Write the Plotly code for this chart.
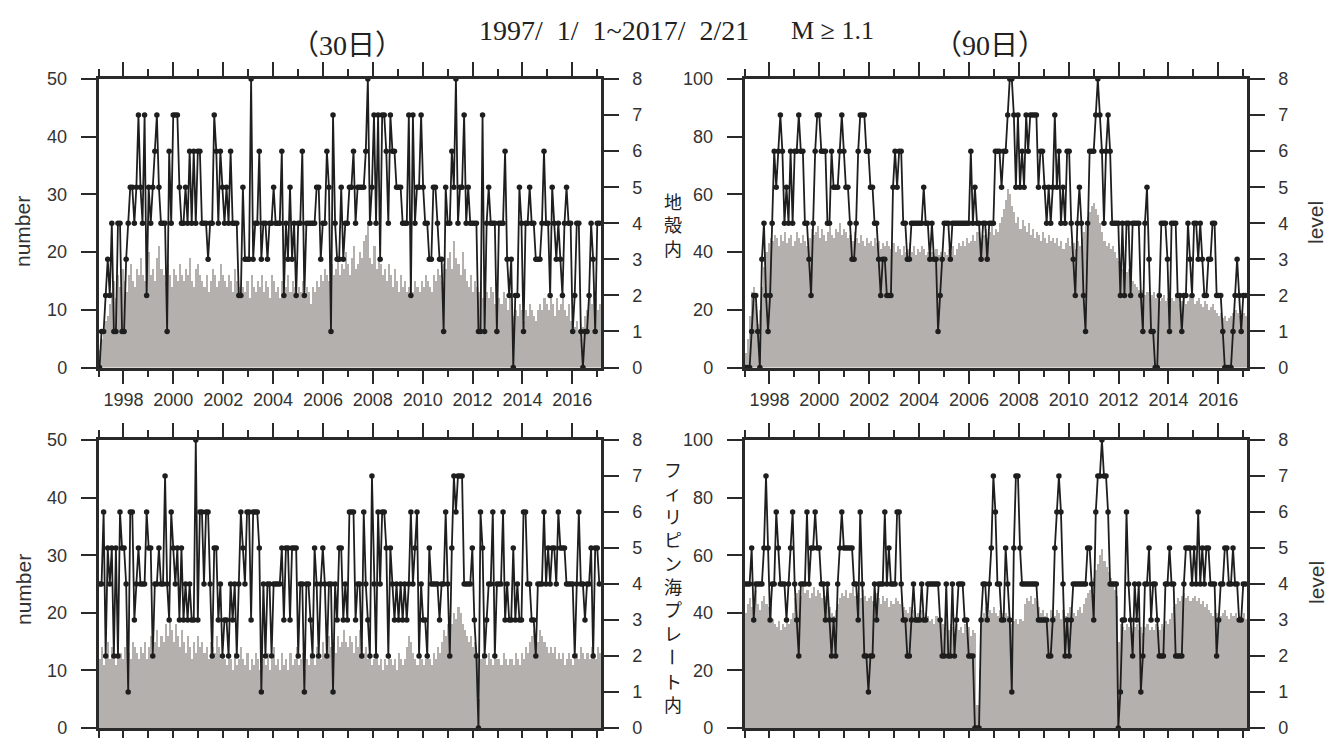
import numpy as np
import plotly.graph_objects as go

W, H = 1329, 738
STEP_DAYS = 30
X_START, X_END = 1997.0, 2017.15

year_ticks = list(range(1998, 2017, 2))
year_labels = [str(y) for y in year_ticks]
minor_ticks = list(range(1997, 2018, 2))
number_ticks_30 = [0, 10, 20, 30, 40, 50]
number_ticks_90 = [0, 20, 40, 60, 80, 100]
level_ticks = list(range(0, 9))

# ---------------- 30-day window, crust (地殻内) ----------------
tl_level = [
    0,1,1,2,3,2,4,1,1,4,4,1,1,3,4,5,5,4,5,7,
    5,4,7,2,5,4,5,6,7,5,4,4,4,1,6,4,7,7,7,5,
    4,4,5,4,6,4,6,4,6,6,4,4,4,3,4,4,7,6,4,6,
    5,4,5,4,6,4,4,4,2,2,5,3,3,3,8,3,4,4,6,3,
    4,4,3,4,4,5,4,4,4,6,2,4,3,5,3,4,2,4,4,6,
    2,4,4,4,4,4,5,5,3,4,4,6,5,1,7,4,3,3,5,3,
    4,4,5,5,6,4,5,5,5,5,6,8,4,5,7,4,7,3,7,7,
    6,4,7,6,6,5,5,5,4,4,4,7,2,7,4,5,5,7,5,4,
    4,3,3,5,5,4,3,3,1,5,4,4,6,5,8,4,5,5,7,4,
    5,4,4,4,4,1,1,7,1,4,5,4,4,4,1,4,4,4,6,3,
    2,3,0,2,2,5,4,1,4,4,5,4,4,3,3,3,4,6,4,4,
    2,5,4,3,4,3,2,4,5,4,4,1,2,4,4,1,0,1,1,2,
    4,3,1,4,4]
tl_number = [
    3,5,6,8,9,11,13,15,12,16,14,17,15,13,16,18,15,14,17,16,
    19,16,15,18,20,16,17,15,19,21,17,16,15,18,16,14,17,16,15,18,
    16,15,17,16,19,15,14,17,18,16,15,14,16,13,15,17,16,14,15,18,
    16,15,14,16,15,13,17,15,14,12,14,13,15,12,16,14,13,15,14,16,
    13,15,14,12,16,15,13,14,12,15,13,14,16,13,15,14,12,14,13,15,
    12,14,13,11,14,13,15,14,16,15,17,16,15,18,16,17,19,16,18,17,
    20,18,16,19,21,17,18,20,19,22,23,25,19,18,21,17,19,18,16,17,
    15,18,16,14,17,15,13,16,14,15,13,14,16,13,15,14,13,15,14,16,
    15,14,13,16,15,17,16,15,18,17,19,20,17,22,19,18,16,20,17,15,
    14,16,13,15,14,13,15,12,14,13,12,14,13,11,13,12,11,13,12,10,
    12,11,9,10,9,11,10,8,10,9,11,10,9,8,10,11,10,12,11,10,
    12,11,9,12,10,11,13,10,9,11,8,9,7,8,6,5,7,9,10,12,
    11,13,12,10,11]

# ---------------- 90-day window, crust (地殻内) ----------------
tr_level = [
    0,0,0,1,2,2,1,0,3,4,2,1,2,4,6,5,6,7,6,4,
    5,4,6,4,6,6,7,6,6,4,4,3,2,4,6,7,7,6,6,6,
    4,4,6,5,5,5,6,7,6,5,5,4,3,3,4,6,7,7,7,6,
    6,5,5,4,4,3,2,3,3,2,2,2,5,6,5,6,6,4,4,3,
    3,4,4,4,4,4,4,5,4,4,3,4,3,3,1,2,3,4,4,4,
    3,4,4,4,4,4,4,4,4,4,6,4,5,4,4,3,4,4,3,4,
    4,4,6,6,6,5,6,6,7,8,8,7,5,7,5,6,5,7,6,7,
    7,7,7,5,6,6,5,4,5,4,5,7,5,6,4,5,4,6,6,4,
    3,2,4,5,4,2,1,4,6,6,6,7,8,7,6,4,6,7,6,4,
    4,4,4,2,4,2,4,4,2,4,4,4,4,2,1,4,5,3,1,1,
    0,0,2,4,4,4,3,1,4,4,4,2,2,1,2,2,4,3,2,4,
    4,3,4,3,2,2,3,3,4,4,2,2,2,1,0,0,0,0,1,2,
    3,2,1,2,2]
tr_number = [
    5,10,18,26,28,22,15,20,28,35,40,43,45,44,46,45,42,46,44,47,
    43,45,46,42,44,47,45,43,46,44,42,45,48,46,47,49,45,48,46,44,
    47,49,46,45,48,47,50,46,48,47,45,46,44,47,45,43,46,44,42,45,
    43,44,42,45,43,44,41,43,42,44,42,41,43,40,42,41,39,42,40,41,
    43,40,42,39,41,40,42,41,39,40,42,40,38,41,39,40,38,40,39,41,
    40,42,39,41,43,42,44,42,45,43,44,46,44,47,45,43,46,48,45,47,
    49,46,48,47,50,52,55,58,62,60,56,54,50,52,48,51,49,47,50,46,
    48,45,47,46,44,47,45,43,46,44,45,43,45,42,44,41,43,45,42,44,
    43,41,44,42,45,47,49,52,54,56,57,55,53,50,47,44,42,43,41,42,
    40,38,37,35,34,36,33,34,32,30,29,28,27,26,27,25,26,24,25,26,
    24,25,23,24,25,23,24,22,24,23,25,24,22,23,24,22,23,25,24,22,
    23,24,22,21,23,22,20,21,22,20,19,18,19,17,18,16,17,18,19,20,
    19,18,20,19,18]

# ---------------- 30-day window, Philippine Sea plate (フィリピン海プレート内) ----------------
bl_level = [
    4,4,6,2,5,4,5,2,5,2,6,5,5,4,1,6,6,3,4,5,
    4,4,4,6,5,5,2,4,4,5,4,4,7,4,3,6,5,4,5,3,
    5,3,4,3,4,3,3,8,3,6,6,4,6,6,4,2,5,5,3,4,
    2,3,3,2,4,3,4,2,4,6,5,4,6,6,3,6,6,6,5,1,
    4,2,4,4,2,4,4,4,4,5,3,5,5,3,5,5,5,2,4,4,
    1,4,4,3,2,5,4,2,4,5,4,2,4,4,1,4,3,5,5,3,
    4,3,6,6,6,3,4,4,2,6,4,3,2,7,4,2,6,4,6,6,
    5,2,5,4,3,4,3,4,3,4,3,4,6,4,5,6,2,4,3,3,
    2,5,4,4,4,4,3,4,4,6,4,2,5,7,6,7,7,7,4,4,
    4,4,5,3,2,0,6,5,2,3,4,4,6,2,4,4,4,6,3,4,
    3,3,5,3,4,3,3,6,6,4,4,3,3,2,4,4,4,6,4,5,
    4,5,5,4,6,5,5,5,4,4,4,4,2,4,6,4,4,3,4,4,
    5,2,5,5,4]
bl_number = [
    12,14,11,13,15,12,14,13,11,15,13,12,14,16,13,12,15,14,13,12,
    14,13,15,12,14,16,13,15,17,14,16,15,18,16,19,17,15,18,16,14,
    17,15,13,16,14,12,15,13,16,14,15,13,14,12,15,14,13,16,14,12,
    13,12,11,13,12,10,13,11,12,14,12,11,13,10,12,11,13,12,10,11,
    12,11,13,10,12,14,11,12,10,13,11,12,10,13,11,12,14,11,12,13,
    10,12,11,13,12,11,14,13,12,15,13,14,16,14,15,13,16,14,15,17,
    15,14,16,15,13,16,14,17,15,13,14,12,13,11,12,13,11,12,10,12,
    11,13,12,11,12,10,13,12,11,12,14,16,15,13,12,11,13,12,11,12,
    13,12,11,13,12,14,13,15,17,16,18,19,18,20,19,21,20,18,17,16,
    15,16,14,15,13,5,12,13,12,11,13,12,11,13,12,12,11,13,12,11,
    12,12,11,13,12,11,13,12,14,13,15,16,17,16,15,17,16,15,14,13,
    14,13,14,12,13,12,13,11,12,13,12,11,12,13,12,14,13,12,13,12,
    14,13,12,14,13]

# ---------------- 90-day window, Philippine Sea plate (フィリピン海プレート内) ----------------
br_level = [
    4,4,4,5,3,4,4,4,4,5,7,5,3,4,4,6,5,4,4,4,
    3,4,5,6,4,3,2,4,4,4,6,4,5,5,6,5,5,4,4,3,
    4,3,2,3,2,4,5,6,5,5,5,5,5,4,4,3,6,4,2,2,
    1,2,2,4,3,4,4,4,6,4,5,4,4,4,6,6,4,3,3,2,
    2,3,4,3,3,3,4,3,3,4,4,4,4,4,4,3,2,2,4,2,
    2,4,2,3,4,4,4,3,3,2,2,2,0,0,0,3,4,4,3,4,
    5,7,6,4,4,3,3,5,4,3,1,5,7,7,5,4,4,4,4,4,
    4,4,4,3,3,3,3,3,2,2,3,5,6,7,6,4,2,3,2,3,
    4,4,4,4,4,4,4,5,5,4,3,6,7,7,8,7,7,6,4,4,
    4,4,0,1,3,3,6,4,3,2,4,3,4,1,2,4,4,5,3,4,
    4,3,2,2,2,4,4,5,4,4,2,2,2,2,4,5,5,5,4,5,
    4,6,4,5,4,5,5,4,4,4,2,3,4,4,5,5,4,4,5,4,
    4,3,3,4,4]
br_number = [
    40,43,45,42,44,48,43,41,44,46,43,42,45,38,36,35,37,34,36,35,
    37,36,38,40,45,47,48,46,49,47,48,45,47,49,46,48,47,45,48,46,
    44,42,40,39,41,43,45,47,46,48,45,47,49,46,44,47,45,48,46,44,
    45,46,44,45,47,45,43,46,44,45,42,44,43,45,44,43,45,42,41,40,
    42,39,41,38,40,39,41,38,40,39,37,38,36,39,37,38,36,35,37,34,
    36,35,33,36,34,35,33,36,34,35,32,34,33,8,20,38,40,42,39,41,
    40,42,40,39,41,40,38,40,39,38,36,37,38,36,38,37,43,45,44,46,
    43,45,44,42,40,41,39,40,38,41,40,39,41,40,38,41,39,40,42,41,
    40,39,41,42,40,43,45,47,48,50,52,55,57,60,62,58,56,54,52,50,
    48,46,30,36,35,34,36,35,34,33,35,36,34,35,33,35,36,34,35,34,
    36,35,34,36,35,37,36,38,40,42,43,45,44,46,47,45,46,44,45,46,
    44,45,43,44,42,43,41,40,39,41,40,38,39,40,41,39,38,40,39,40,
    38,39,37,40,38]


def tgrid(vals):
    return 1997 + (np.arange(len(vals)) + 0.5) * STEP_DAYS / 365.25


def px(x):
    return x / W


def py(y):
    return 1 - y / H


XL = [px(98.5), px(601)]
XR = [px(744.5), px(1247)]
YT = [py(367.5), py(79)]
YB = [py(728), py(440)]

AX = "#2a2a2a"
BAR = "#b4b0ad"
LINE = "#1e1e1e"
SANS = "Liberation Sans, Arial, sans-serif"
TICKFONT = dict(family=SANS, size=18, color="#333333")

panels = [
    dict(num=tl_number, lev=tl_level, ymax=50, yt=number_ticks_30, dx=XL, dy=YT, lab=True),
    dict(num=tr_number, lev=tr_level, ymax=100, yt=number_ticks_90, dx=XR, dy=YT, lab=True),
    dict(num=bl_number, lev=bl_level, ymax=50, yt=number_ticks_30, dx=XL, dy=YB, lab=False),
    dict(num=br_number, lev=br_level, ymax=100, yt=number_ticks_90, dx=XR, dy=YB, lab=False),
]

fig = go.Figure()
layout = {}
for k, p in enumerate(panels):
    xi = k + 1
    yl = 2 * k + 1
    yr = 2 * k + 2
    xname = "x" if xi == 1 else f"x{xi}"
    ylname = "y" if yl == 1 else f"y{yl}"
    yrname = f"y{yr}"
    fig.add_trace(go.Bar(
        x=tgrid(p["num"]), y=p["num"], xaxis=xname, yaxis=ylname,
        marker=dict(color=BAR, line=dict(width=0)),
        width=STEP_DAYS / 365.25, showlegend=False, hoverinfo="skip"))
    fig.add_trace(go.Scatter(
        x=tgrid(p["lev"]), y=p["lev"], xaxis=xname, yaxis=yrname,
        mode="lines+markers", line=dict(color=LINE, width=1.8),
        marker=dict(size=5.5, color=LINE), showlegend=False, cliponaxis=False))

    layout["xaxis" if xi == 1 else f"xaxis{xi}"] = dict(
        domain=p["dx"], range=[X_START, X_END], anchor=ylname,
        tickmode="array", tickvals=year_ticks, ticktext=year_labels,
        ticks="outside", ticklen=14, tickwidth=1.5, tickcolor=AX,
        showline=True, linecolor=AX, linewidth=2.5, mirror="ticks",
        showgrid=False, zeroline=False, showticklabels=p["lab"],
        tickfont=TICKFONT, ticklabelstandoff=0, automargin=False,
        ticklabeloverflow="allow",
        minor=dict(tickmode="array", tickvals=minor_ticks, ticks="outside",
                   ticklen=7, tickwidth=1.5, tickcolor=AX, showgrid=False))
    layout["yaxis" if yl == 1 else f"yaxis{yl}"] = dict(
        domain=p["dy"], range=[0, p["ymax"]], anchor=xname,
        tickmode="array", tickvals=p["yt"],
        ticks="outside", ticklen=15, tickwidth=1.5, tickcolor=AX,
        showline=True, linecolor=AX, linewidth=2.5, automargin=False,
        ticklabeloverflow="allow",
        showgrid=False, zeroline=False, tickfont=TICKFONT, ticklabelstandoff=10)
    layout[f"yaxis{yr}"] = dict(
        overlaying=ylname, side="right", range=[0, 8], anchor=xname,
        tickmode="array", tickvals=level_ticks,
        ticks="outside", ticklen=15, tickwidth=1.5, tickcolor=AX,
        showline=True, linecolor=AX, linewidth=2.5, automargin=False,
        ticklabeloverflow="allow",
        showgrid=False, zeroline=False, tickfont=TICKFONT, ticklabelstandoff=10)

SERIF = "Liberation Serif, Times New Roman, Noto Sans CJK JP, serif"
CJK = "Noto Sans CJK JP, sans-serif"
ann = []


def add_text(text, x, y, size, family, angle=0, color="#222222"):
    ann.append(dict(text=text, x=px(x), y=py(y), xref="paper", yref="paper",
                    xanchor="center", yanchor="middle", showarrow=False,
                    textangle=angle, font=dict(family=family, size=size, color=color)))


NB = "\u00a0"
add_text(f"1997/{NB}{NB}1/{NB}{NB}1~2017/{NB}{NB}2/21", 614, 30, 28, SERIF)
add_text("M ≥ 1.1", 832, 30, 26, SERIF)
add_text("（30日）", 347, 45, 28, SERIF)
add_text("（90日）", 990, 45, 28, SERIF)
add_text("number", 23, 232, 21, SANS, -90, "#333333")
add_text("number", 23, 590, 21, SANS, -90, "#333333")
add_text("level", 1316, 223, 21, SANS, -90, "#333333")
add_text("level", 1316, 583, 21, SANS, -90, "#333333")

add_text("<br>".join("地殻内"), 673, 224, 18, CJK)
add_text("<br>".join("フィリピン海プレ"), 673, 551, 18, CJK)
add_text("ー", 673, 657, 18, CJK, 90)
add_text("<br>".join("ト内"), 673, 692, 18, CJK)

fig.update_layout(
    width=W, height=H, margin=dict(l=0, r=0, t=0, b=0, pad=0, autoexpand=False),
    paper_bgcolor="white", plot_bgcolor="white",
    bargap=0, barmode="overlay", annotations=ann, **layout)

fig.write_html("out.html", config={"displayModeBar": False},
               post_script="document.body.style.margin='0';document.body.style.overflow='hidden';")
